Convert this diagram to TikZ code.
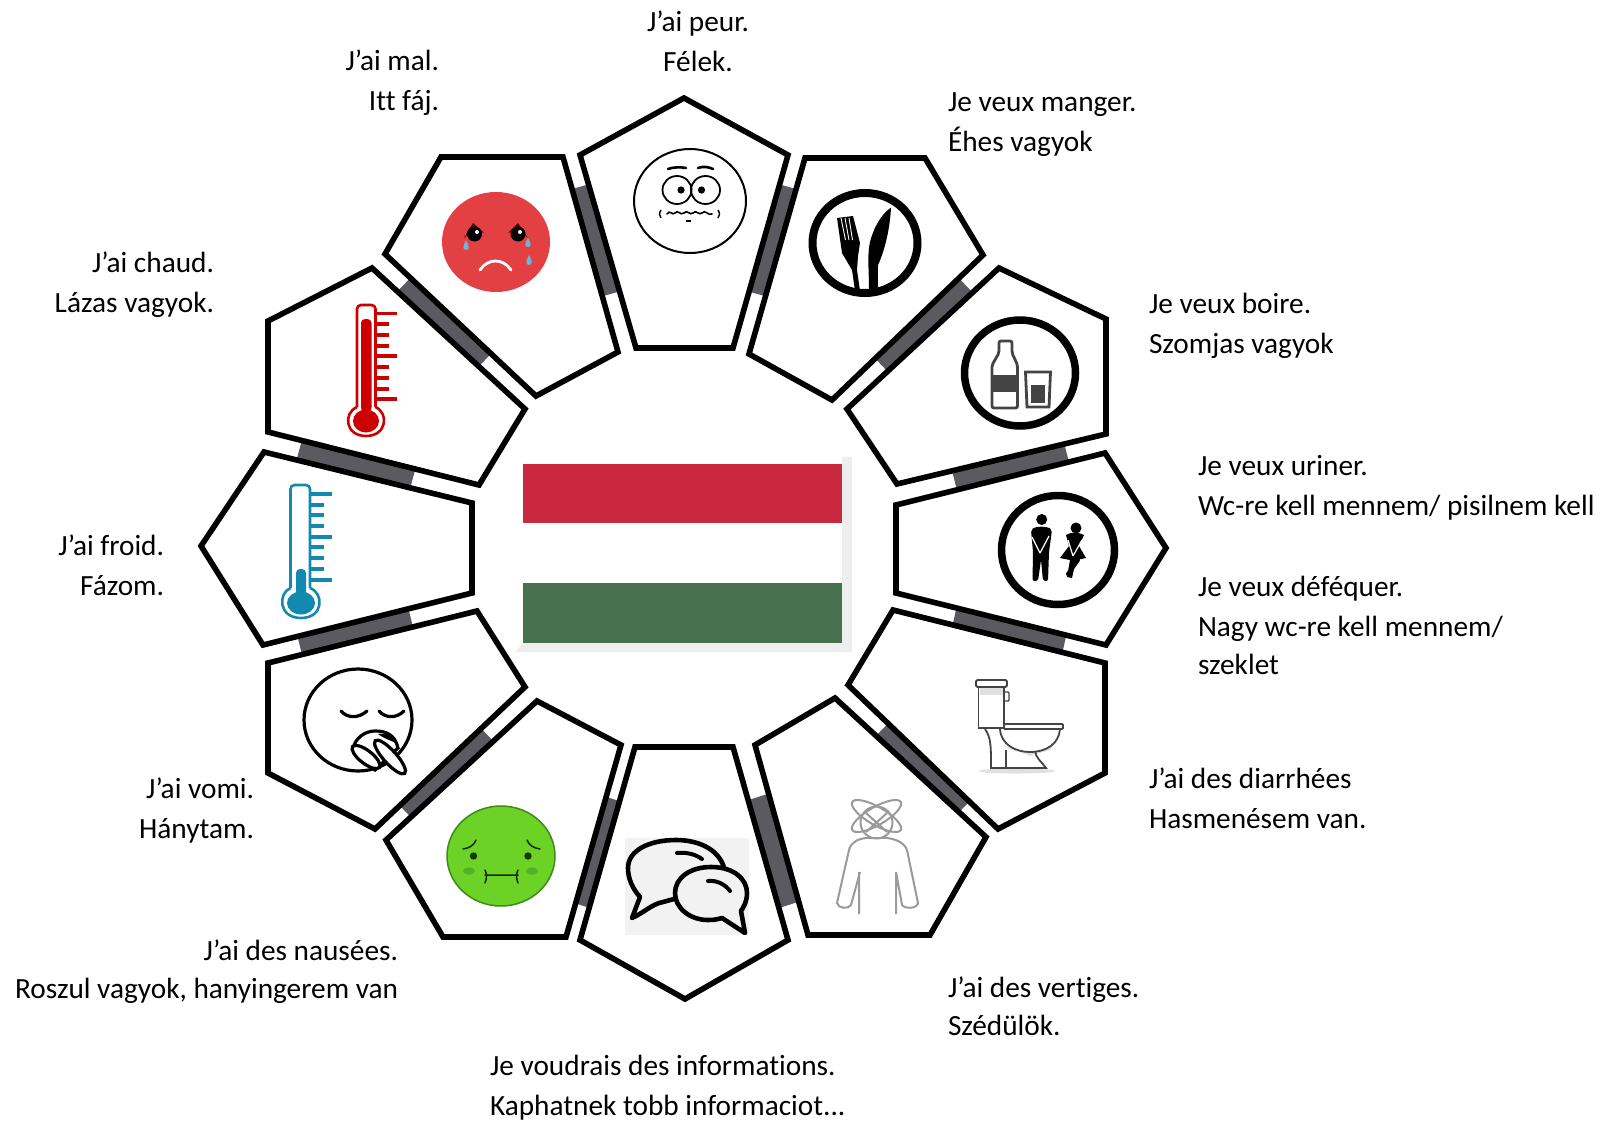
\documentclass[tikz,border=0pt]{standalone}
\usepackage{fontspec}
\setmainfont[Ligatures={NoCommon}]{Carlito}
\definecolor{barc}{HTML}{5A5A60}
\definecolor{flagred}{HTML}{C9283E}
\definecolor{flaggreen}{HTML}{47704F}
\definecolor{shadowc}{HTML}{EEEEEE}
\definecolor{sadred}{HTML}{E34043}
\definecolor{tearc}{HTML}{6DB6D8}
\definecolor{hotc}{HTML}{CC0000}
\definecolor{coldc}{HTML}{1289AE}
\definecolor{nausc}{HTML}{6CD225}
\definecolor{nausd}{HTML}{3F8A18}
\definecolor{nausch}{HTML}{52B02A}
\definecolor{pers}{HTML}{9A9A9A}
\definecolor{chatbg}{HTML}{F2F2F2}
\definecolor{toil}{HTML}{444444}
\tikzset{
  penta/.style={draw=black,fill=white,line width=5.6,line join=miter},
  gapbar/.style={draw=barc,line width=22},
  lab/.style={inner sep=0,outer sep=0,font=\fontsize{29.3}{35}\selectfont,text=black},
  labl/.style={lab,anchor=base west},
  labr/.style={lab,anchor=base east},
  labc/.style={lab,anchor=base},
  ring/.style={draw=black,line width=7.5},
  tick/.style={line width=3.2},
}
\begin{document}
\begin{tikzpicture}[x=1pt,y=-1pt]
\useasboundingbox (0,0) rectangle (1603,1121);
\fill[white] (0,0) rectangle (1603,1121);
% bars between the pentagons
\draw[gapbar] (581,186.5)--(610.5,294);
\draw[gapbar] (787,186.5)--(757.5,294);
\draw[gapbar] (405.5,283)--(484.5,360.5);
\draw[gapbar] (299.5,449)--(412.5,479.5);
\draw[gapbar] (299.5,644.5)--(410.5,617);
\draw[gapbar] (404,810)--(485,732.5);
\draw[gapbar] (616,800)--(582,905.5);
\draw[gapbar] (756.5,797.5)--(791.5,904);
\draw[gapbar] (885.5,726)--(965.5,805.5);
\draw[gapbar] (954.5,616.5)--(1065,641);
\draw[gapbar] (954.5,480.5)--(1066.5,452.5);
\draw[gapbar] (880,363.5)--(964.5,284);
% pentagons
\draw[penta] (684,98)--(788,155)--(733,348)--(636,348)--(580,155)--cycle;
\draw[penta] (441,157)--(563,157)--(618,352)--(536,396)--(385,254)--cycle;
\draw[penta] (372,268)--(525,409)--(479,485)--(268,432)--(268,321)--cycle;
\draw[penta] (264,452)--(472,503)--(472,593)--(263,645)--(201,546)--cycle;
\draw[penta] (805,158)--(925,158)--(983,255)--(832,400)--(749,354)--cycle;
\draw[penta] (999,268)--(1106,319)--(1106,434)--(897,484)--(847,409)--cycle;
\draw[penta] (1105,453)--(1166,548)--(1106,645)--(896,593)--(896,505)--cycle;
\draw[penta] (893,610)--(1105,663)--(1105,773)--(998,829)--(848,685)--cycle;
\draw[penta] (835,698)--(986,837)--(930,935)--(808,935)--(755,745)--cycle;
\draw[penta] (635,747)--(733,747)--(788,940)--(685,999)--(580,940)--cycle;
\draw[penta] (537,701)--(621,745)--(566,937)--(443,937)--(386,840)--cycle;
\draw[penta] (477,611)--(525,687)--(375,829)--(268,773)--(268,663)--cycle;
% flag
\fill[shadowc] (523,643)--(842,643)--(842,457)--(852,457)--(852,652)--(515,652)--cycle;
\fill[flagred] (523,464) rectangle (842,523);
\fill[flaggreen] (523,583) rectangle (842,643);
% sad face
\fill[sadred] (496,242) ellipse [x radius=54,y radius=50];
\fill[black!70!red] (464,238)--(473,223)--(484,233)--(473,229)--cycle;
\fill[black!70!red] (528,238)--(518,223)--(508,233)--(519,229)--cycle;
\fill[black] (474.5,234) circle (7.5);
\fill[black] (518,234) circle (7.5);
\fill[white] (477,232) circle (2);
\fill[white] (520,232) circle (2);
\fill[tearc] (466,240) .. controls (463,246) and (462,250) .. (466,250) .. controls (470,250) and (469,246) .. (466,240) -- cycle;
\fill[tearc] (528,238) .. controls (525,243) and (524,247) .. (528,247) .. controls (532,247) and (531,243) .. (528,238) -- cycle;
\fill[tearc] (529,255) .. controls (526,260) and (525,265) .. (529,265) .. controls (533,265) and (532,260) .. (529,255) -- cycle;
\draw[white,line width=2.8,line cap=round] (480,270) .. controls (488,258) and (503,258) .. (511,270);
% fear face
\draw[black,fill=white,line width=2] (690,201) ellipse [x radius=56,y radius=52];
\draw[line width=1.8] (677,190) ellipse [x radius=14.5,y radius=14];
\draw[line width=1.8] (705.5,190) ellipse [x radius=14.5,y radius=14];
\fill (681,190) circle (3.6);
\fill (701.5,190) circle (3.6);
\draw[line width=2.6,line cap=round] (668,169) .. controls (673,167) and (681,167) .. (686,168);
\draw[line width=2.6,line cap=round] (698,168) .. controls (703,166) and (709,167) .. (713,169);
\draw[line width=1.6,line cap=round] (667,214) .. controls (670,209) and (672,216) .. (675,213) .. controls (678,209) and (680,216) .. (684,213) .. controls (687,209) and (690,216) .. (693,213) .. controls (696,209) and (699,216) .. (702,213) .. controls (705,209) and (708,216) .. (712,214);
\draw[line width=1.4] (661,210) .. controls (659,213) and (659,216) .. (661,218);
\draw[line width=1.4] (718,210) .. controls (720,213) and (720,216) .. (718,218);
\draw[line width=1.2] (686,221) -- (691,221);
% cutlery
\draw[ring,line width=8] (865,243) ellipse [x radius=52.5,y radius=50];
\fill (837,218) -- (853,216) -- (860,243) -- (858,256) -- (857,270) -- (860,291) -- (855,291) -- (852,270) -- (842,253) -- cycle;
\foreach \fxa/\fxb in {841/845.5,845/849,849/852.5}{\draw[white,line width=0.9] (\fxa,218) -- (\fxb,240);}
\fill (891,207.5) .. controls (880,215) and (873,230) .. (870,242) .. controls (867,255) and (869,270) .. (869,290) -- (877.7,290) -- (878,265) .. controls (885,250) and (890,228) .. (891,207.5) -- cycle;
% bottle and glass
\draw[ring] (1020,373) ellipse [x radius=55.5,y radius=53];
\draw[toil,line width=2.8,fill=white,rounded corners=2] (999,341) -- (1012,341) -- (1012,353) -- (1017.5,365) -- (1017.5,408) -- (992,408) -- (992,365) -- (999,353) -- cycle;
\fill[toil] (992,375) rectangle (1017.5,392);
\draw[toil,line width=2.8] (1025.5,372) -- (1050.5,372) -- (1049,407) -- (1027,407) -- cycle;
\fill[toil] (1031,385) rectangle (1045,403);
% toilets people
\draw[ring] (1058,550) ellipse [x radius=56.5,y radius=54.5];
\fill (1041.7,519.5) circle (5.5);
\fill[rounded corners=2] (1031,530) .. controls (1036,526) and (1047,526) .. (1052,530) -- (1049,552) -- (1048,581) -- (1043,581) -- (1041,560) -- (1038,581) -- (1032.5,581) -- (1033,552) -- cycle;
\draw[white,line width=1.2] (1032,537) -- (1040,553) (1049,536) -- (1040,553);
\fill (1076,528) circle (5.5);
\fill[line join=round] (1066,535) .. controls (1070,532) and (1079,532) .. (1084,535) -- (1079,546) -- (1086,558) -- (1076,560) -- (1072,578) -- (1067,577) -- (1070,560) -- (1060,558) -- (1069,546) -- cycle;
\draw[line width=4,line cap=round] (1078,560) -- (1068,574);
\draw[white,line width=1.2] (1068,540) -- (1073,556) (1082,540) -- (1073,556);
% toilet bowl
\fill[black!12] (1017,771) ellipse [x radius=38,y radius=2.5];
\fill[black!12] (980,687) rectangle (1003,695);
\draw[toil,line width=1.8,rounded corners=1.5] (976,680) rectangle (1007,687);
\draw[toil,line width=1.8] (978.5,687) -- (978.5,728) -- (1004,728) -- (1004,687);
\draw[toil,line width=1.4,rounded corners=1] (1004,692) -- (1009,692) -- (1009,701) -- (1004,701);
\draw[toil,line width=1.8,rounded corners=1] (1004,724) rectangle (1063,729);
\fill[black!12] (1002,745) .. controls (1015,755) and (1040,755) .. (1056,742) -- (1050,750) -- (1030,756) -- cycle;
\draw[toil,line width=1.8] (1000,729) .. controls (1001,745) and (1016,752) .. (1030,752) .. controls (1046,752) and (1059,744) .. (1060,729);
\draw[toil,line width=1.8] (985,729) .. controls (991,738) and (991,745) .. (991,768) -- (1046,768) .. controls (1040,760) and (1036,758) .. (1035,751);
\draw[toil,line width=1.8] (1006,750) -- (1006,768);
% dizzy person
\begin{scope}[pers,line width=2]
\draw (876.5,822.5) ellipse [x radius=16,y radius=16];
\draw (866,813) -- (887,832) (887,813) -- (866,832);
\draw[rotate around={30:(876.5,816)}] (876.5,816) ellipse [x radius=28,y radius=9];
\draw[rotate around={-30:(876.5,816)}] (876.5,816) ellipse [x radius=28,y radius=9];
\draw (866,838) .. controls (858,839) and (851,842) .. (849,850) -- (837,903) .. controls (838,909) and (849,909) .. (851,905) -- (860,872) (859,872) -- (859,914);
\draw (887,838) .. controls (895,839) and (904,842) .. (907,850) -- (918,903) .. controls (917,909) and (905,909) .. (902,905) -- (896,872) (896,872) -- (896,914);
\draw (866,838) -- (887,838);
\end{scope}
% chat
\fill[chatbg] (625,838) rectangle (749,935);
\draw[line width=4.6,fill=chatbg,line join=round] (663,902) .. controls (652,904) and (645,912) .. (632,918) -- (640,897) .. controls (632,888) and (628,878) .. (628,868) .. controls (628,850) and (650,840) .. (676,840) .. controls (702,840) and (722,852) .. (725,872) -- (725,885) -- cycle;
\draw[line width=4.6,fill=chatbg,line join=round] (711,867) .. controls (735,867) and (747,880) .. (747,893) .. controls (747,902) and (743,908) .. (741,911) -- (745,933) -- (722,918) .. controls (715,920) and (712,920) .. (708,920) .. controls (690,920) and (675,908) .. (675,893) .. controls (675,878) and (690,867) .. (711,867) -- cycle;
\draw[line width=4,line cap=round] (677,853) .. controls (686,852) and (695,854) .. (702,859);
\draw[line width=4,line cap=round] (708,881) .. controls (716,880) and (725,884) .. (730,891);
% nausea face
\draw[nausd,fill=nausc,line width=1.5] (501,856) ellipse [x radius=54,y radius=50];
\fill[nausch] (469,871) ellipse [x radius=6,y radius=3.5];
\fill[nausch] (532,871) ellipse [x radius=6,y radius=3.5];
\fill[black!60!nausd] (473.5,856) circle (3.7);
\fill[black!60!nausd] (528,856) circle (3.7);
\draw[black!70!nausd,line width=1.5,line cap=round] (463,849) .. controls (470,848) and (474,845) .. (476,840);
\draw[black!70!nausd,line width=1.5,line cap=round] (540,849) .. controls (533,848) and (529,845) .. (527,840);
\draw[black!70!nausd,line width=1.5,line cap=round] (485,875) -- (518,875) (485,870) .. controls (487,874) and (487,878) .. (485,883) (518,870) .. controls (516,874) and (516,878) .. (518,883);
% vomiting face
\draw[black,fill=white,line width=3.2] (358,720) ellipse [x radius=54,y radius=51];
\draw[line width=3.2,line cap=round] (341,711) .. controls (347,718) and (358,719) .. (367,711);
\draw[line width=3.2,line cap=round] (379,711) .. controls (385,718) and (396,719) .. (404,711);
\draw[line width=3.2,fill=white] (353,749) .. controls (355,738) and (365,731) .. (375,731) .. controls (385,731) and (395,734) .. (398,748) -- (375,770) -- cycle;
\fill (378,734) .. controls (385,733) and (394,735) .. (398,744) .. controls (392,741) and (385,739) .. (378,734) -- cycle;
\draw[line width=3.2,fill=white,rotate around={-48:(390,757)}] (390,757) ellipse [x radius=22,y radius=6.5];
\draw[line width=3.2,fill=white,rotate around={-38:(366,757)}] (366,757) ellipse [x radius=17,y radius=6.5];
% hot thermometer
\begin{scope}[hotc]
\draw[line width=2.6,rounded corners=4] (357,407) -- (357,305) -- (375.5,305) -- (375.5,407);
\draw[line width=2.6] (357,407) .. controls (343,413) and (345,436) .. (366,436) .. controls (387,436) and (389,413) .. (375.5,407);
\fill[rounded corners=4] (361,319) rectangle (371.5,412);
\fill (366,421) ellipse [x radius=13,y radius=11.5];
\foreach \ty in {313.6,356,399}{\draw[tick] (376,\ty) -- (397,\ty);}
\foreach \ty in {324,335,346,367,378,389}{\draw[tick] (376,\ty) -- (389,\ty);}
\end{scope}
% cold thermometer
\begin{scope}[coldc]
\draw[line width=2.6,rounded corners=4] (290.5,588) -- (290.5,485) -- (310,485) -- (310,588);
\draw[line width=2.6] (290.5,588) .. controls (278,593) and (278,618) .. (301,618) .. controls (324,618) and (324,593) .. (310,588);
\fill[rounded corners=4] (296,569) rectangle (306,595);
\fill (301,603) ellipse [x radius=14,y radius=11.5];
\foreach \ty in {494,537,580}{\draw[tick] (311,\ty) -- (332,\ty);}
\foreach \ty in {505,515,526,547,558,569}{\draw[tick] (311,\ty) -- (324,\ty);}
\end{scope}
% labels
\node[labc] (t1a) at (698,32) {J’ai peur.};
\node[labc] (t1b) at (698,72) {Félek.};
\node[labr] (t2a) at (439,71) {J’ai mal.};
\node[labr] (t2b) at (439,110.5) {Itt fáj.};
\node[labr] (t3a) at (214,272) {J’ai chaud.};
\node[labr] (t3b) at (214,312) {Lázas vagyok.};
\node[labr] (t4a) at (164,555) {J’ai froid.};
\node[labr] (t4b) at (164,595) {Fázom.};
\node[labr] (t5a) at (254,798) {J’ai vomi.};
\node[labr] (t5b) at (254,838) {Hánytam.};
\node[labr] (t6a) at (398,960) {J’ai des nausées.};
\node[labr] (t6b) at (398,998) {Roszul vagyok, hanyingerem van};
\node[labl] (t7a) at (490,1075) {Je voudrais des informations.};
\node[labl] (t7b) at (490,1115) {Kaphatnek tobb informaciot...};
\node[labl] (t8a) at (948,112) {Je veux manger.};
\node[labl] (t8b) at (948,152) {Éhes vagyok};
\node[labl] (t9a) at (1149,313.5) {Je veux boire.};
\node[labl] (t9b) at (1149,353.5) {Szomjas vagyok};
\node[labl] (t10a) at (1198,475) {Je veux uriner.};
\node[labl] (t10b) at (1198,515) {Wc-re kell mennem/ pisilnem kell};
\node[labl] (t11a) at (1198,596) {Je veux déféquer.};
\node[labl] (t11b) at (1198,636) {Nagy wc-re kell mennem/};
\node[labl] (t11c) at (1198,674.5) {szeklet};
\node[labl] (t12a) at (1149,788.5) {J'ai des diarrhées};
\node[labl] (t12b) at (1149,828) {Hasmenésem van.};
\node[labl] (t13a) at (948,997) {J’ai des vertiges.};
\node[labl] (t13b) at (948,1035) {Szédülök.};
\end{tikzpicture}
\end{document}
